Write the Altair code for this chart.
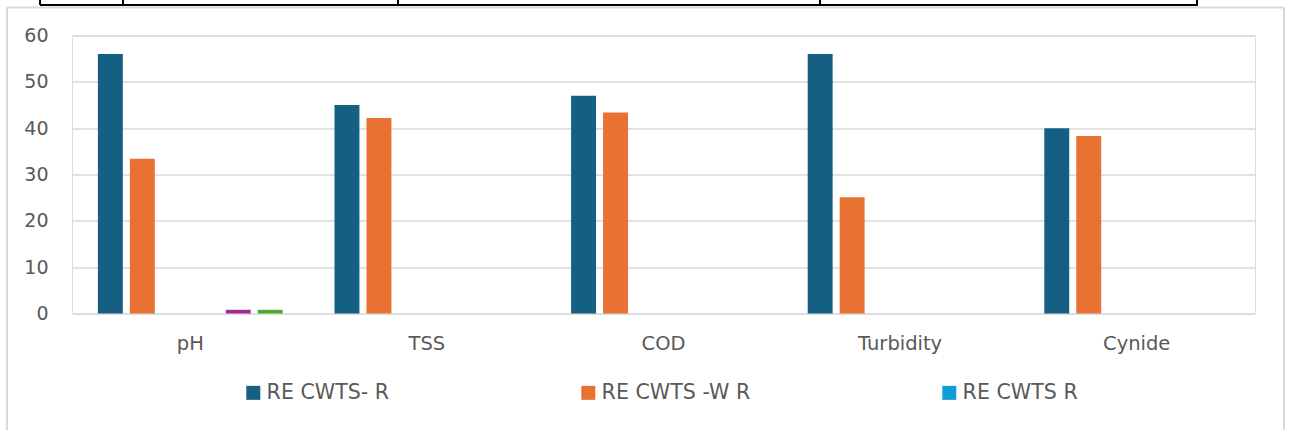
import altair as alt
import pandas as pd

categories = ["pH", "TSS", "COD", "Turbidity", "Cynide"]
series_names = ["RE CWTS- R", "RE CWTS -W R", "RE CWTS R", "Series 4", "Series 5", "Series 6"]
s1 = [56, 45, 47, 56, 40]
s2 = [33.4, 42.2, 43.4, 25.1, 38.3]
s3 = [0, 0, 0, 0, 0]
s4 = [0, 0, 0, 0, 0]
s5 = [0.8, 0, 0, 0, 0]
s6 = [0.8, 0, 0, 0, 0]
colors = ["#156082", "#E97132", "#0F9ED5", "#196B24", "#A02B93", "#4EA72E"]
y_ticks = [0, 10, 20, 30, 40, 50, 60]

FONT = "DejaVu Sans"
TXT = "#595959"
GRID = "#D9D9D9"

rows = []
for name, vals in zip(series_names, [s1, s2, s3, s4, s5, s6]):
    for c, v in zip(categories, vals):
        rows.append({"category": c, "series": name, "value": v})
df = pd.DataFrame(rows)

bars = alt.Chart(df).mark_bar().encode(
    x=alt.X("category:N", sort=categories, title=None,
            scale=alt.Scale(paddingInner=0, paddingOuter=0),
            axis=alt.Axis(labelAngle=0, domain=False, ticks=False, labelPadding=21,
                          labelFont=FONT, labelFontSize=19.5, labelColor=TXT)),
    xOffset=alt.XOffset("series:N", sort=series_names,
                        scale=alt.Scale(paddingInner=0.22, paddingOuter=0.81)),
    y=alt.Y("value:Q", title=None,
            scale=alt.Scale(domain=[0, 60]),
            axis=alt.Axis(values=y_ticks, domain=False, ticks=False, labelPadding=24,
                          gridColor=GRID, gridWidth=1.5,
                          labelFont=FONT, labelFontSize=19, labelColor=TXT)),
    color=alt.Color("series:N", sort=series_names,
                    scale=alt.Scale(domain=series_names, range=colors),
                    legend=alt.Legend(values=series_names[:3], title=None, orient="none",
                                      legendX=171, legendY=347, direction="horizontal",
                                      columns=3, columnPadding=188, padding=0,
                                      symbolType="square", symbolSize=196, symbolStrokeWidth=0,
                                      labelFont=FONT, labelFontSize=20.6, labelColor=TXT,
                                      labelOffset=3, labelLimit=300)),
)

one = pd.DataFrame({"k": [0]})
frame_left = alt.Chart(one).mark_rule(color=GRID, strokeWidth=2).encode(
    x=alt.value(-65), y=alt.value(-28), y2=alt.value(420))
frame_right = alt.Chart(one).mark_rule(color=GRID, strokeWidth=2).encode(
    x=alt.value(1212), y=alt.value(-28), y2=alt.value(420))
frame_top = alt.Chart(one).mark_rule(color=GRID, strokeWidth=2).encode(
    x=alt.value(-65), x2=alt.value(1212), y=alt.value(-28))
black_h = alt.Chart(one).mark_rule(color="black", strokeWidth=2).encode(
    x=alt.value(-32), x2=alt.value(1126), y=alt.value(-30.5))
black_v = [
    alt.Chart(one).mark_rule(color="black", strokeWidth=2).encode(
        x=alt.value(xv), y=alt.value(-40), y2=alt.value(-30.5))
    for xv in [-32, 51, 326, 748, 1125]
]

chart = alt.layer(frame_left, frame_right, frame_top, black_h, *black_v, bars).properties(
    width=1183, height=278,
    autosize=alt.AutoSizeParams(type="none"),
    padding={"left": 72, "top": 35.5, "right": 34, "bottom": 116},
).configure_view(stroke=None).configure(background="white")

chart.save("out.html", embed_options={"renderer": "svg", "actions": False})
